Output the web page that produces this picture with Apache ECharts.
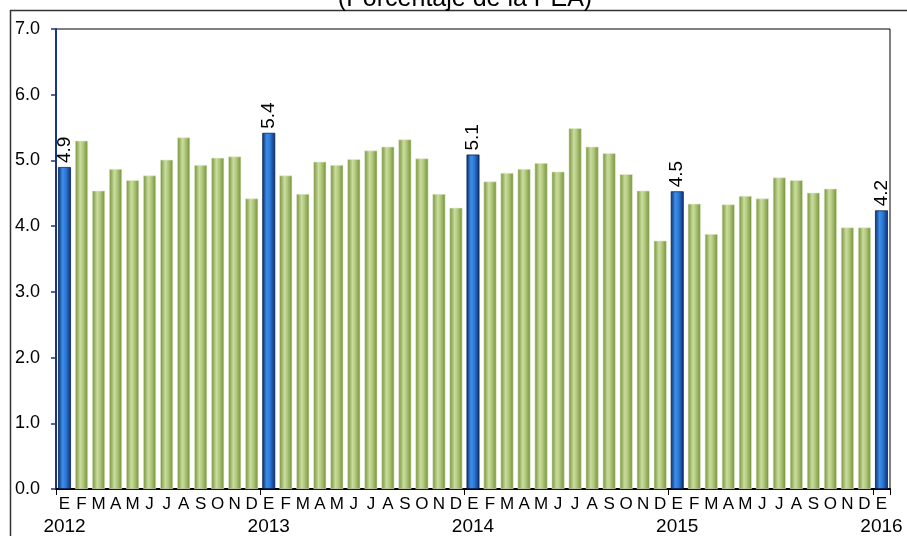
<!DOCTYPE html>
<html>
<head>
<meta charset="utf-8">
<script src="https://cdn.jsdelivr.net/npm/echarts@6/dist/echarts.min.js"></script>
<style>
html,body{margin:0;padding:0;background:#fff;}
#chart{width:907px;height:536px;}
</style>
</head>
<body>
<div id="chart"></div>
<script>
// Data
var monthLetters = ['E','F','M','A','M','J','J','A','S','O','N','D'];
var years = ['2012','2013','2014','2015','2016'];
var values = [
  4.90, 5.30, 4.54, 4.87, 4.70, 4.77, 5.01, 5.35, 4.93, 5.04, 5.06, 4.42,
  5.42, 4.77, 4.49, 4.98, 4.93, 5.02, 5.15, 5.21, 5.32, 5.03, 4.49, 4.28,
  5.09, 4.68, 4.81, 4.87, 4.96, 4.83, 5.49, 5.21, 5.11, 4.79, 4.54, 3.78,
  4.53, 4.34, 3.88, 4.33, 4.46, 4.42, 4.74, 4.70, 4.51, 4.57, 3.98, 3.98,
  4.24
];
var yTicks = [0, 1, 2, 3, 4, 5, 6, 7];

var FONT = '"Liberation Sans", Arial, sans-serif';

var categories = values.map(function (v, i) {
  return years[Math.floor(i / 12)] + '-' + (i % 12);
});

var greenGrad = new echarts.graphic.LinearGradient(0, 0, 1, 0, [
  {offset: 0, color: '#738f35'},
  {offset: 0.4, color: '#cadd9e'},
  {offset: 0.6, color: '#b3ca80'},
  {offset: 1, color: '#738f35'}
]);
var blueGrad = new echarts.graphic.LinearGradient(0, 0, 1, 0, [
  {offset: 0, color: '#0c2c6c'},
  {offset: 0.35, color: '#3c8fe8'},
  {offset: 0.6, color: '#2c78d8'},
  {offset: 1, color: '#0c2c6c'}
]);

var seriesData = values.map(function (v, i) {
  if (i % 12 === 0) {
    return {
      value: v,
      itemStyle: {color: blueGrad, borderColor: '#0a2458', borderWidth: 0.8},
      label: {
        show: true, position: 'top', rotate: 90, align: 'left', verticalAlign: 'middle',
        distance: 4, fontSize: 19, color: '#000', fontFamily: FONT,
        formatter: function (p) { return p.value.toFixed(1); }
      }
    };
  }
  return {value: v, itemStyle: {color: greenGrad, borderColor: '#e3ecd0', borderWidth: 0.6}};
});

var chart = echarts.init(document.getElementById('chart'), null, {renderer: 'canvas'});
chart.setOption({
  animation: false,
  backgroundColor: '#fff',
  textStyle: {fontFamily: FONT},
  graphic: [
    {type: 'line', shape: {x1: 10, y1: 10.5, x2: 907, y2: 10.5}, style: {stroke: '#333', lineWidth: 1.5}, z: 100},
    {type: 'line', shape: {x1: 10.5, y1: 10, x2: 10.5, y2: 536}, style: {stroke: '#333', lineWidth: 1.5}, z: 100},
    {type: 'text', x: 465, y: 12, style: {text: '(Porcentaje de la PEA)', fontSize: 25, fill: '#000',
      fontFamily: FONT, textAlign: 'center', textVerticalAlign: 'bottom'}, z: 100}
  ],
  grid: {left: 56, top: 29, right: 17, bottom: 47, show: true, borderColor: '#000', borderWidth: 1, containLabel: false},
  xAxis: {
    type: 'category',
    data: categories,
    boundaryGap: true,
    axisLine: {show: true, lineStyle: {color: '#000', width: 2}},
    axisTick: {show: true, length: 6, lineStyle: {color: '#000', width: 1},
      interval: function (i) { return i % 12 === 0; }},
    axisLabel: {
      interval: 0, margin: 6, color: '#000',
      formatter: function (val, i) {
        var m = monthLetters[i % 12];
        if (i % 12 === 0) return '{m|' + m + '}\n{y|' + years[i / 12] + '}';
        return '{m|' + m + '}';
      },
      rich: {
        m: {fontSize: 17, lineHeight: 18, color: '#000', fontFamily: FONT},
        y: {fontSize: 19, lineHeight: 27, color: '#000', fontFamily: FONT}
      }
    }
  },
  yAxis: {
    type: 'value',
    min: yTicks[0], max: yTicks[yTicks.length - 1], interval: 1,
    axisLine: {show: true, lineStyle: {color: '#1a3680', width: 2}},
    axisTick: {show: true, length: 5, lineStyle: {color: '#1a3680', width: 1.5}},
    splitLine: {show: false},
    axisLabel: {color: '#000', fontSize: 18, margin: 16, fontFamily: FONT,
      formatter: function (v) { return v.toFixed(1); }}
  },
  series: [{
    type: 'bar',
    data: seriesData,
    barCategoryGap: '24%'
  }]
});
</script>
</body>
</html>
